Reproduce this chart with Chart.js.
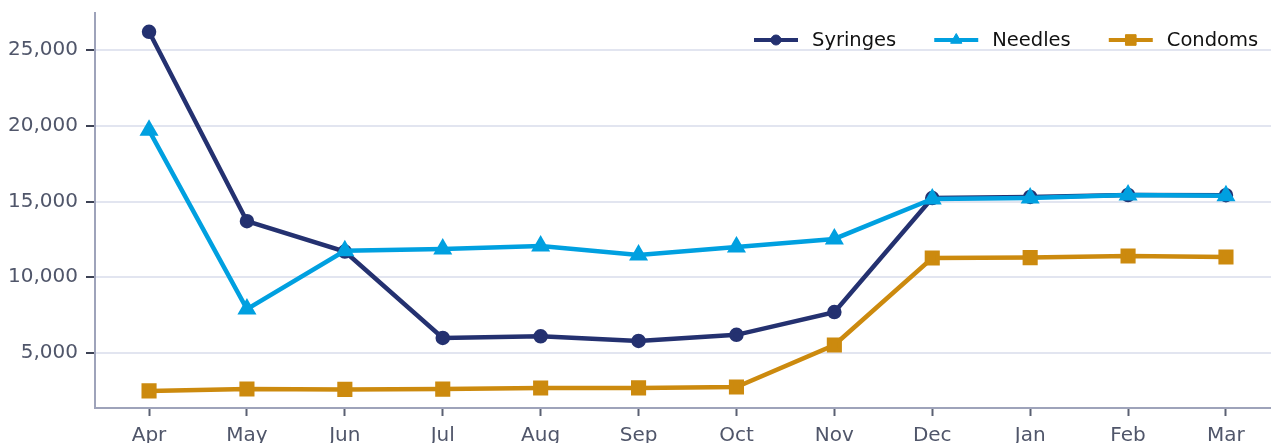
<!DOCTYPE html>
<html>
<head>
<meta charset="utf-8">
<script src="https://cdn.jsdelivr.net/npm/chart.js@4"></script>
<style>
html, body { margin: 0; padding: 0; background: #fff; overflow: hidden; }
#wrap { position: relative; width: 1271px; height: 456px; }
</style>
</head>
<body>
<div id="wrap"><canvas id="line"></canvas></div>
<script>
const months = ['Apr', 'May', 'Jun', 'Jul', 'Aug', 'Sep', 'Oct', 'Nov', 'Dec', 'Jan', 'Feb', 'Mar'];
const syringes = [26200, 13700, 11700, 6000, 6100, 5800, 6200, 7700, 15230, 15300, 15430, 15420];
const needles = [19700, 7900, 11750, 11860, 12060, 11470, 12000, 12530, 15170, 15230, 15430, 15380];
const condoms = [2500, 2630, 2600, 2620, 2690, 2700, 2760, 5530, 11270, 11300, 11400, 11340];
const yTicks = [5000, 10000, 15000, 20000, 25000];

const fontFam = "'DejaVu Sans', sans-serif";
const toPts = arr => arr.map((v, i) => ({x: i, y: v}));

// legend drawn inside the plot, top right
const insideLegend = {
    id: 'insideLegend',
    afterDraw(chart) {
        const ctx = chart.ctx;
        let x = 754;
        const y = 40;
        ctx.save();
        ctx.font = '19.5px ' + fontFam;
        ctx.textBaseline = 'middle';
        chart.data.datasets.forEach(ds => {
            ctx.strokeStyle = ds.borderColor;
            ctx.lineWidth = 4;
            ctx.beginPath();
            ctx.moveTo(x, y);
            ctx.lineTo(x + 44, y);
            ctx.stroke();
            ctx.fillStyle = ds.borderColor;
            ctx.lineWidth = 1;
            Chart.helpers.drawPoint(ctx, {pointStyle: ds.pointStyle, radius: ds.pointRadius, borderWidth: 1}, x + 22, y);
            ctx.fillStyle = '#111';
            ctx.fillText(ds.label, x + 58, y + 1);
            x += 58 + ctx.measureText(ds.label).width + 38;
        });
        ctx.restore();
    }
};

const ctx = document.getElementById('line').getContext('2d');

new Chart(ctx, {
    type: 'line',
    data: {
        datasets: [{
            label: 'Syringes',
            data: toPts(syringes),
            borderColor: '#243170',
            backgroundColor: '#243170',
            pointStyle: 'circle',
            pointRadius: 5,
            borderWidth: 4.5,
            order: 3
        }, {
            label: 'Needles',
            data: toPts(needles),
            borderColor: '#00a0e0',
            backgroundColor: '#00a0e0',
            pointStyle: 'triangle',
            pointRadius: 6.5,
            borderWidth: 4.5,
            order: 2
        }, {
            label: 'Condoms',
            data: toPts(condoms),
            borderColor: '#cc8a0e',
            backgroundColor: '#cc8a0e',
            pointStyle: 'rect',
            pointRadius: 7.5,
            borderWidth: 4.5,
            order: 1
        }]
    },
    options: {
        responsive: true,
        maintainAspectRatio: false,
        animation: false,
        layout: { autoPadding: false, padding: { top: 13, right: 0, left: 0, bottom: 0 } },
        plugins: {
            legend: { display: false },
            tooltip: { enabled: false }
        },
        elements: { line: { tension: 0 }, point: { borderWidth: 1, hoverRadius: 5 } },
        scales: {
            x: {
                type: 'linear',
                min: -0.552,
                max: 11.46,
                afterFit: s => { s.height = 48; s.paddingLeft = 0; s.paddingRight = 0; },
                afterBuildTicks: s => { s.ticks = months.map((m, i) => ({value: i})); },
                ticks: {
                    stepSize: 1,
                    autoSkip: false,
                    maxRotation: 0,
                    padding: 8,
                    color: '#50566a',
                    font: { family: fontFam, size: 20 },
                    callback: v => months[v]
                },
                grid: { drawOnChartArea: false, tickLength: 8, tickColor: '#5a6072', tickWidth: 2 },
                border: { color: '#9ea3ba', width: 2 }
            },
            y: {
                min: 1372,
                max: 27442,
                afterFit: s => { s.width = 95; s.paddingTop = 0; s.paddingBottom = 0; },
                afterBuildTicks: s => { s.ticks = yTicks.map(v => ({value: v})); },
                ticks: {
                    padding: 8,
                    color: '#50566a',
                    font: { family: fontFam, size: 20 },
                    callback: v => v.toLocaleString('en-US')
                },
                grid: { color: '#e2e5f0', lineWidth: 2, tickLength: 9, tickColor: '#3c4154', tickWidth: 2 },
                border: { color: '#9ea3ba', width: 2 }
            }
        }
    },
    plugins: [insideLegend]
});
</script>
</body>
</html>
